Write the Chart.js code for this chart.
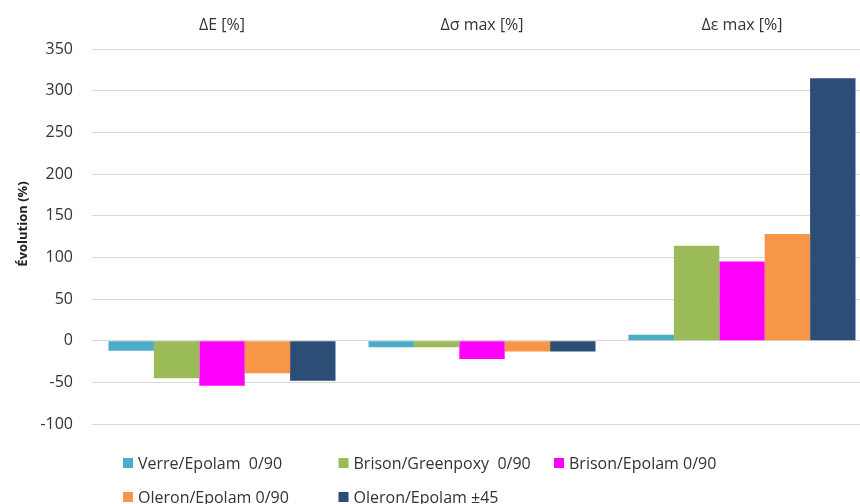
<!DOCTYPE html>
<html>
<head>
<meta charset="utf-8">
<script src="https://cdn.jsdelivr.net/npm/chart.js@4.4.0/dist/chart.umd.min.js"></script>
<style>
  html, body { margin: 0; padding: 0; overflow: hidden; background: #fff; width: 860px; height: 504px; }
  #wrap { position: absolute; left: 0; top: 0; width: 880px; height: 520px; }
</style>
</head>
<body>
<div id="wrap"><canvas id="c" width="880" height="520"></canvas></div>
<script>
// Categories (one group of bars per measured quantity)
const categories = ['ΔE [%]', 'Δσ max [%]', 'Δε max [%]'];

// Evolution in % for each material
const verreEpolam090     = [-12,  -8,   7];
const brisonGreenpoxy090 = [-45,  -8, 114];
const brisonEpolam090    = [-54, -22,  95];
const oleronEpolam090    = [-39, -13, 128];
const oleronEpolam45     = [-48, -13, 315];

const seriesLabels = [
  'Verre/Epolam  0/90',
  'Brison/Greenpoxy  0/90',
  'Brison/Epolam 0/90',
  'Oleron/Epolam 0/90',
  'Oleron/Epolam ±45'
];
const seriesColors = ['#4BACC6', '#9BBB59', '#FF00FF', '#F79646', '#2C4D75'];

// Value axis range
const yMin = -100;
const yMax = 350;
const yStep = 50;

const yTitle = 'Évolution (%)';
const FONT = "'Open Sans', 'DejaVu Sans', sans-serif";
const TEXT = '#333333';

const seriesValues = [verreEpolam090, brisonGreenpoxy090, brisonEpolam090, oleronEpolam090, oleronEpolam45];

// Legend laid out in fixed-width columns below the plot, plus the rotated value-axis title
const extrasPlugin = {
  id: 'extras',
  afterDraw(chart) {
    const ctx = chart.ctx;
    ctx.save();
    ctx.font = '16px ' + FONT;
    ctx.textBaseline = 'middle';
    ctx.textAlign = 'left';
    chart.data.datasets.forEach((ds, i) => {
      const col = i % 3, row = Math.floor(i / 3);
      const x = 123 + col * 215.5;
      const y = 463 + row * 34;
      ctx.fillStyle = ds.backgroundColor;
      ctx.fillRect(x, y - 5, 10, 10);
      ctx.fillStyle = TEXT;
      ctx.fillText(ds.label, x + 15, y + 1);
    });
    ctx.translate(23, 224);
    ctx.rotate(-Math.PI / 2);
    ctx.textAlign = 'center';
    ctx.font = 'bold 13px ' + FONT;
    ctx.fillStyle = '#222222';
    ctx.fillText(yTitle, 0, 0);
    ctx.restore();
  }
};

new Chart(document.getElementById('c'), {
  type: 'bar',
  data: {
    labels: categories,
    datasets: seriesValues.map((vals, i) => ({
      label: seriesLabels[i],
      data: vals,
      backgroundColor: seriesColors[i],
      borderWidth: 0,
      categoryPercentage: 0.873,
      barPercentage: 1.0
    }))
  },
  options: {
    responsive: false,
    animation: false,
    devicePixelRatio: 1,
    layout: { padding: { left: 0, top: 0, right: 8, bottom: 96 } },
    plugins: {
      legend: { display: false },
      tooltip: { enabled: false },
      title: { display: false }
    },
    scales: {
      x: {
        position: 'top',
        grid: { display: false, drawTicks: false },
        border: { display: false },
        ticks: { color: TEXT, font: { family: FONT, size: 16 }, padding: 14, maxRotation: 0 },
        afterFit(s) { s.height = 49; }
      },
      y: {
        min: yMin,
        max: yMax,
        grid: { color: '#d9d9d9', lineWidth: 1, drawTicks: false },
        border: { display: false },
        ticks: { stepSize: yStep, color: TEXT, font: { family: FONT, size: 16 }, padding: 19 },
        afterFit(s) { s.width = 92; }
      }
    }
  },
  plugins: [extrasPlugin]
});
</script>
</body>
</html>
